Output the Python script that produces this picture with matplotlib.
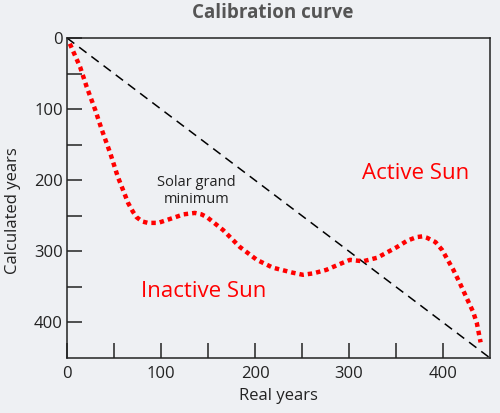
import matplotlib
matplotlib.use("Agg")
import matplotlib.pyplot as plt

# values
real_years = [3, 5, 14, 21, 30, 37, 46, 54, 60, 65, 70, 74, 80, 86, 97, 113,
              124, 136, 143, 149, 166, 184, 202, 219, 240, 251, 262, 276, 290,
              301, 315, 330, 351, 362, 372, 378, 383, 392, 399, 411, 418, 426,
              432, 436, 440]
calc_years = [8, 14, 41, 69, 101, 129, 162, 195, 215, 232, 244, 252, 258, 260,
              260, 253, 248, 246, 248, 252, 270, 294, 312, 323, 330, 333, 331,
              326, 318, 312, 314, 309, 294, 285, 280, 279, 281, 287, 298, 326,
              345, 368, 385, 401, 428]
diag = [0, 450]
major_ticks = [0, 100, 200, 300, 400]
minor_ticks = [50, 150, 250, 350]

plt.rcParams['font.family'] = ['Open Sans', 'DejaVu Sans']
bg = '#eef0f3'

fig = plt.figure(figsize=(5, 4.13), dpi=100, facecolor=bg)
ax = fig.add_axes([0.134, 0.1332, 0.846, 0.7748], facecolor=bg)

ax.plot(diag, diag, color='black', lw=1.1, linestyle=(0, (6, 4)))
ax.plot(real_years, calc_years, color='#ff0000', lw=3.2,
        linestyle=(0, (1, 0.9)), solid_capstyle='butt')

ax.set_xlim(0, 450)
ax.set_ylim(450, 0)
ax.set_xticks(major_ticks)
ax.set_yticks(major_ticks)
ax.set_xticks(minor_ticks, minor=True)
ax.set_yticks(minor_ticks, minor=True)
ax.tick_params(which='both', direction='in', length=11, width=1.1,
               color='#222222', labelsize=12, labelcolor='#222222')
ax.tick_params(axis='y', which='both', pad=3)
ax.tick_params(axis='x', which='both', pad=6)
for s in ax.spines.values():
    s.set_linewidth(1.1)
    s.set_color('#222222')

ax.set_xlabel('Real years', fontsize=12, color='#222222', labelpad=4)
ax.set_ylabel('Calculated years', fontsize=12, color='#222222')
ax.yaxis.set_label_coords(-0.108, 0.459)

ax.text(145, 357, 'Inactive Sun', color='#ff0000', fontsize=16,
        ha='center', va='center')
ax.text(371, 190, 'Active Sun', color='#ff0000', fontsize=16,
        ha='center', va='center')
ax.text(138, 215, 'Solar grand\nminimum', color='#222222', fontsize=10.5,
        ha='center', va='center', linespacing=1.2)

fig.text(0.545, 0.968, 'Calibration curve', fontsize=13.5, fontweight='bold',
         color='#555555', ha='center', va='center')

fig.savefig('out.png', dpi=100, facecolor=bg)
